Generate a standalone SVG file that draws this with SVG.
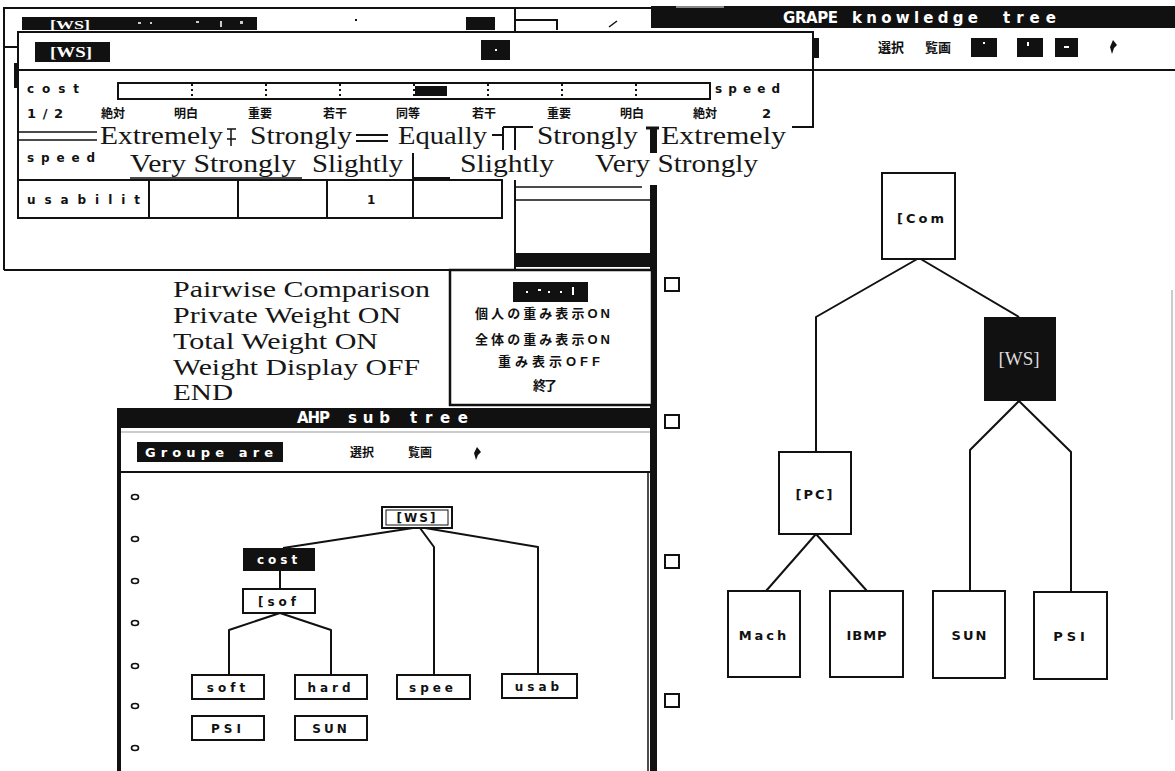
<svg xmlns="http://www.w3.org/2000/svg" width="1175" height="771" viewBox="0 0 1175 771">
<style>
.ln{stroke:#111;stroke-width:2;fill:none}
.thin{stroke:#111;stroke-width:1.5;fill:none}
.blk{fill:#111}
.box{fill:#fff;stroke:#111;stroke-width:2}
.ui{font-family:"DejaVu Sans","Liberation Sans",sans-serif;font-weight:bold;fill:#111}
.uiw{font-family:"DejaVu Sans","Liberation Sans",sans-serif;font-weight:bold;fill:#fff}
.ttl{font-family:"Liberation Serif",serif;font-weight:bold;fill:#fff}
.jp{font-family:"Liberation Sans","Noto Sans CJK JP",sans-serif;font-weight:bold;fill:#111}
.ser{font-family:"Liberation Serif",serif;fill:#161616}
.conn{stroke:#111;stroke-width:2;fill:none;stroke-linejoin:round}
.tick{stroke:#111;stroke-width:2;stroke-dasharray:2 3}
.sq{fill:#fff;stroke:#111;stroke-width:2}
.dot{fill:#fff;stroke:#111;stroke-width:1.6}
</style>
<rect width="1175" height="771" fill="#fff"/>

<!-- rear comparison window -->
<g id="rear-window">
  <path class="ln" d="M4 270 V8 H651"/>
  <path class="ln" d="M4 270 H515 V180"/>
  <path class="ln" d="M515 8 V32 M515 20 H557 V30"/>
  <path class="thin" d="M609 27 L617 21"/>
  <path class="ln" d="M4 47 H18"/>
  <rect class="blk" x="14" y="63" width="3" height="25"/>
  <rect class="blk" x="22" y="17" width="235" height="13"/>
  <text class="ttl" x="50" y="29" font-size="13" textLength="40" lengthAdjust="spacingAndGlyphs">[WS]</text>
  <g fill="#ccc"><rect x="138" y="22" width="3" height="2"/><rect x="150" y="22" width="2" height="2"/><rect x="196" y="21" width="3" height="2"/><rect x="220" y="21" width="2" height="6"/><rect x="240" y="21" width="3" height="3"/></g>
  <rect class="blk" x="466" y="17" width="29" height="13"/>
  <rect x="355" y="19" width="2" height="2" fill="#111"/>
</g>

<!-- front [WS] comparison window -->
<g id="ws-window">
  <rect x="18" y="32" width="795" height="95" fill="#fff"/>
  <path class="ln" d="M18 218 V32 H813 V127 H792"/>
  <path class="ln" d="M18 70 H1175"/>
  <rect class="blk" x="35" y="42" width="75" height="20"/>
  <text class="ttl" x="50" y="57" font-size="14" textLength="42" lengthAdjust="spacingAndGlyphs">[WS]</text>
  <rect class="blk" x="481" y="40" width="29" height="20"/>
  <rect x="495" y="49" width="2" height="2" fill="#fff"/>

  <text class="ui" x="27" y="93" font-size="12" textLength="52" lengthAdjust="spacing">cost</text>
  <rect x="118" y="83" width="592" height="16" fill="#fff" stroke="#111" stroke-width="2"/>
  <path class="tick" d="M192 84 V98 M266 84 V98 M340 84 V98 M414 84 V98 M488 84 V98 M562 84 V98 M636 84 V98"/>
  <rect class="blk" x="415" y="86" width="32" height="10"/>
  <text class="ui" x="715" y="93" font-size="12" textLength="65" lengthAdjust="spacing">speed</text>

  <text class="ui" x="27" y="118" font-size="13" textLength="36" lengthAdjust="spacing">1/2</text>
  <g class="jp" font-size="12" text-anchor="middle">
    <text x="113" y="118">絶対</text>
    <text x="186" y="118">明白</text>
    <text x="260" y="118">重要</text>
    <text x="335" y="118">若干</text>
    <text x="408" y="118">同等</text>
    <text x="484" y="118">若干</text>
    <text x="559" y="118">重要</text>
    <text x="632" y="118">明白</text>
    <text x="705" y="118">絶対</text>
  </g>
  <text class="ui" x="762" y="118" font-size="13">2</text>

  <text class="ui" x="27" y="162" font-size="12" textLength="68" lengthAdjust="spacing">speed</text>
  <path class="ln" d="M17 180 H502 V218 H17 M149 180 V218 M238 180 V218 M327 180 V218 M413 153 V218 M413 178 H450"/>
  <text class="ui" x="27" y="204" font-size="12" textLength="113" lengthAdjust="spacing">usabilit</text>
  <text class="ui" x="367" y="204" font-size="12">1</text>
</g>

<!-- intensity scale annotations -->
<g id="scale-labels">
  <path class="thin" d="M17 132 H97 M17 140 H97"/>
  <path class="ln" d="M356 135 H388 M356 141 H388"/>
  <path class="thin" d="M227 129 H236 M231 129 V146 M227 139 H236"/>
  <path class="ln" d="M492 135 H503 M503 127 V150 M503 127 H533 M515 127 V150"/>
  <path d="M646 128 H659" stroke="#111" stroke-width="3"/>
  <rect class="blk" x="650" y="128" width="7" height="25"/>
  <text class="ser" x="100" y="144" font-size="25" textLength="123" lengthAdjust="spacingAndGlyphs">Extremely</text>
  <text class="ser" x="250" y="144" font-size="25" textLength="102" lengthAdjust="spacingAndGlyphs">Strongly</text>
  <text class="ser" x="398" y="144" font-size="25" textLength="89" lengthAdjust="spacingAndGlyphs">Equally</text>
  <text class="ser" x="537" y="144" font-size="25" textLength="101" lengthAdjust="spacingAndGlyphs">Strongly</text>
  <text class="ser" x="661" y="144" font-size="25" textLength="125" lengthAdjust="spacingAndGlyphs">Extremely</text>
  <text class="ser" x="130" y="172" font-size="25" textLength="166" lengthAdjust="spacingAndGlyphs">Very Strongly</text>
  <path class="thin" d="M130 178 H302"/>
  <text class="ser" x="312" y="172" font-size="25" textLength="91" lengthAdjust="spacingAndGlyphs">Slightly</text>
  <text class="ser" x="460" y="172" font-size="25" textLength="94" lengthAdjust="spacingAndGlyphs">Slightly</text>
  <text class="ser" x="595" y="172" font-size="25" textLength="163" lengthAdjust="spacingAndGlyphs">Very Strongly</text>
</g>

<!-- small intermediate window -->
<g id="mid-window">
  <path class="thin" d="M515 187 H642 M515 200 H653"/>
  <rect class="blk" x="515" y="253" width="138" height="14"/>
</g>

<!-- GRAPE knowledge tree window -->
<g id="grape-window">
  <rect class="blk" x="651" y="6" width="524" height="22"/>
  <rect x="676" y="6" width="48" height="2" fill="#888"/>
  <g class="uiw" font-size="15">
    <text x="783" y="23" textLength="55" lengthAdjust="spacing">GRAPE</text>
    <text x="852" y="23" textLength="126" lengthAdjust="spacing">knowledge</text>
    <text x="1003" y="23" textLength="53" lengthAdjust="spacing">tree</text>
  </g>
  <rect class="blk" x="813" y="38" width="6" height="20"/>
  <text class="jp" x="878" y="52" font-size="13">選択</text>
  <text class="jp" x="925" y="52" font-size="13">覧画</text>
  <rect class="blk" x="971" y="38" width="26" height="19"/>
  <rect class="blk" x="1017" y="38" width="26" height="19"/>
  <rect class="blk" x="1055" y="38" width="23" height="19"/>
  <g fill="#fff"><rect x="983" y="42" width="2" height="2"/><rect x="1027" y="42" width="2" height="4"/><rect x="1064" y="46" width="5" height="2"/></g>
  <path class="blk" d="M1113 40 L1117 45 L1114 48 L1112 54 L1110 47 Z"/>
  <rect class="blk" x="650" y="185" width="7" height="586"/>
  <path d="M1172 290 V720" stroke="#bbb" stroke-width="1.5"/>
  <rect class="sq" x="665" y="278" width="14" height="13"/>
  <rect class="sq" x="665" y="415" width="14" height="13"/>
  <rect class="sq" x="665" y="555" width="14" height="13"/>
  <rect class="sq" x="665" y="694" width="14" height="13"/>
</g>

<!-- English menu labels -->
<g id="menu-english">
  <text class="ser" x="173" y="297" font-size="23" textLength="257" lengthAdjust="spacingAndGlyphs">Pairwise Comparison</text>
  <text class="ser" x="173" y="323" font-size="23" textLength="228" lengthAdjust="spacingAndGlyphs">Private Weight ON</text>
  <text class="ser" x="173" y="349" font-size="23" textLength="205" lengthAdjust="spacingAndGlyphs">Total Weight ON</text>
  <text class="ser" x="173" y="375" font-size="23" textLength="247" lengthAdjust="spacingAndGlyphs">Weight Display OFF</text>
  <text class="ser" x="173" y="400" font-size="23" textLength="60" lengthAdjust="spacingAndGlyphs">END</text>
</g>

<!-- popup menu -->
<g id="popup-menu">
  <rect x="450" y="270" width="202" height="135" fill="#fff" stroke="#111" stroke-width="2.5"/>
  <rect class="blk" x="513" y="282" width="75" height="20"/>
  <g fill="#fff"><rect x="526" y="291" width="2" height="2"/><rect x="538" y="289" width="3" height="2"/><rect x="548" y="291" width="2" height="2"/><rect x="560" y="291" width="2" height="2"/><rect x="572" y="287" width="2" height="8"/></g>
  <g class="jp" font-size="13">
    <text x="475" y="318" textLength="135">個人の重み表示ON</text>
    <text x="475" y="344" textLength="135">全体の重み表示ON</text>
    <text x="498" y="366" textLength="102">重み表示OFF</text>
    <text x="533" y="390" textLength="24">終了</text>
  </g>
</g>

<!-- AHP sub tree window -->
<g id="ahp-window">
  <rect class="blk" x="117" y="408" width="536" height="20"/>
  <g class="uiw" font-size="15">
    <text x="297" y="423" textLength="33" lengthAdjust="spacing">AHP</text>
    <text x="348" y="423" textLength="42" lengthAdjust="spacing">sub</text>
    <text x="410" y="423">t</text>
    <text x="425" y="423" textLength="43" lengthAdjust="spacing">ree</text>
  </g>
  <rect class="blk" x="117" y="408" width="4" height="363"/>
  <path d="M121 432 H650" stroke="#999" stroke-width="1"/>
  <rect class="blk" x="137" y="442" width="146" height="20"/>
  <text class="uiw" x="145" y="457" font-size="13" textLength="128" lengthAdjust="spacing">Groupe are</text>
  <text class="jp" x="350" y="457" font-size="12">選択</text>
  <text class="jp" x="408" y="457" font-size="12">覧画</text>
  <path class="blk" d="M477 447 L481 452 L478 455 L476 460 L474 453 Z"/>
  <path class="ln" d="M121 472 H650"/>
  <path d="M648 472 V771" stroke="#111" stroke-width="1.5"/>
  <g>
    <ellipse class="dot" cx="135" cy="497" rx="3.5" ry="2.5"/>
    <ellipse class="dot" cx="135" cy="539" rx="3.5" ry="2.5"/>
    <ellipse class="dot" cx="135" cy="581" rx="3.5" ry="2.5"/>
    <ellipse class="dot" cx="135" cy="623" rx="3.5" ry="2.5"/>
    <ellipse class="dot" cx="135" cy="666" rx="3.5" ry="2.5"/>
    <ellipse class="dot" cx="135" cy="706" rx="3.5" ry="2.5"/>
    <ellipse class="dot" cx="135" cy="748" rx="3.5" ry="2.5"/>
  </g>
</g>

<!-- connectors -->
<g id="connectors">
  <path class="conn" d="M413 528 L283 548"/>
  <path class="conn" d="M420 528 L434 547 V675"/>
  <path class="conn" d="M425 528 L538 547 V674"/>
  <path class="conn" d="M280 571 V589"/>
  <path class="conn" d="M280 613 L229 630 V675"/>
  <path class="conn" d="M280 613 L331 630 V675"/>
  <path class="conn" d="M919 258 L816 317 V452"/>
  <path class="conn" d="M919 258 L1019 317"/>
  <path class="conn" d="M1019 401 L970 450 V591"/>
  <path class="conn" d="M1019 401 L1071 452 V592"/>
  <path class="conn" d="M816 534 L766 591"/>
  <path class="conn" d="M816 534 L867 591"/>
</g>

<!-- AHP sub tree nodes -->
<g id="ahp-ws">
  <rect class="box" x="382" y="507" width="70" height="21"/>
  <rect x="386" y="510" width="62" height="15" fill="none" stroke="#111" stroke-width="1"/>
  <text class="ui" x="417" y="522" font-size="12" text-anchor="middle" letter-spacing="2">[WS]</text>
</g>
<g id="ahp-cost">
  <rect class="blk" x="243" y="548" width="72" height="23"/>
  <text class="uiw" x="279" y="564" font-size="12" text-anchor="middle" letter-spacing="4">cost</text>
</g>
<g id="ahp-sof">
  <rect class="box" x="243" y="589" width="72" height="24"/>
  <text class="ui" x="279" y="606" font-size="12" text-anchor="middle" letter-spacing="4">[sof</text>
</g>
<g id="ahp-soft">
  <rect class="box" x="192" y="675" width="72" height="24"/>
  <text class="ui" x="228" y="692" font-size="12" text-anchor="middle" letter-spacing="4">soft</text>
</g>
<g id="ahp-hard">
  <rect class="box" x="295" y="675" width="72" height="24"/>
  <text class="ui" x="331" y="692" font-size="12" text-anchor="middle" letter-spacing="4">hard</text>
</g>
<g id="ahp-spee">
  <rect class="box" x="397" y="675" width="73" height="24"/>
  <text class="ui" x="433" y="692" font-size="12" text-anchor="middle" letter-spacing="4">spee</text>
</g>
<g id="ahp-usab">
  <rect class="box" x="502" y="674" width="75" height="24"/>
  <text class="ui" x="539" y="691" font-size="12" text-anchor="middle" letter-spacing="4">usab</text>
</g>
<g id="ahp-psi">
  <rect class="box" x="192" y="716" width="72" height="24"/>
  <text class="ui" x="228" y="733" font-size="12" text-anchor="middle" letter-spacing="4">PSI</text>
</g>
<g id="ahp-sun">
  <rect class="box" x="295" y="716" width="72" height="24"/>
  <text class="ui" x="331" y="733" font-size="12" text-anchor="middle" letter-spacing="3">SUN</text>
</g>

<!-- knowledge tree nodes -->
<g id="kt-com">
  <rect class="box" x="882" y="173" width="73" height="86"/>
  <text class="ui" x="897" y="223" font-size="13" letter-spacing="3">[Com</text>
</g>
<g id="kt-ws">
  <rect class="blk" x="984" y="317" width="72" height="84"/>
  <text x="1019" y="365" font-size="19" text-anchor="middle" font-family="Liberation Serif" fill="#ddd">[WS]</text>
</g>
<g id="kt-pc">
  <rect class="box" x="779" y="452" width="72" height="82"/>
  <text class="ui" x="815" y="499" font-size="13" text-anchor="middle" letter-spacing="2">[PC]</text>
</g>
<g id="kt-mach">
  <rect class="box" x="728" y="591" width="72" height="86"/>
  <text class="ui" x="764" y="640" font-size="13" text-anchor="middle" letter-spacing="3">Mach</text>
</g>
<g id="kt-ibmp">
  <rect class="box" x="830" y="591" width="73" height="86"/>
  <text class="ui" x="867" y="640" font-size="13" text-anchor="middle" letter-spacing="1">IBMP</text>
</g>
<g id="kt-sun">
  <rect class="box" x="933" y="591" width="72" height="87"/>
  <text class="ui" x="970" y="640" font-size="13" text-anchor="middle" letter-spacing="2">SUN</text>
</g>
<g id="kt-psi">
  <rect class="box" x="1034" y="592" width="73" height="87"/>
  <text class="ui" x="1071" y="641" font-size="13" text-anchor="middle" letter-spacing="4">PSI</text>
</g>
</svg>
